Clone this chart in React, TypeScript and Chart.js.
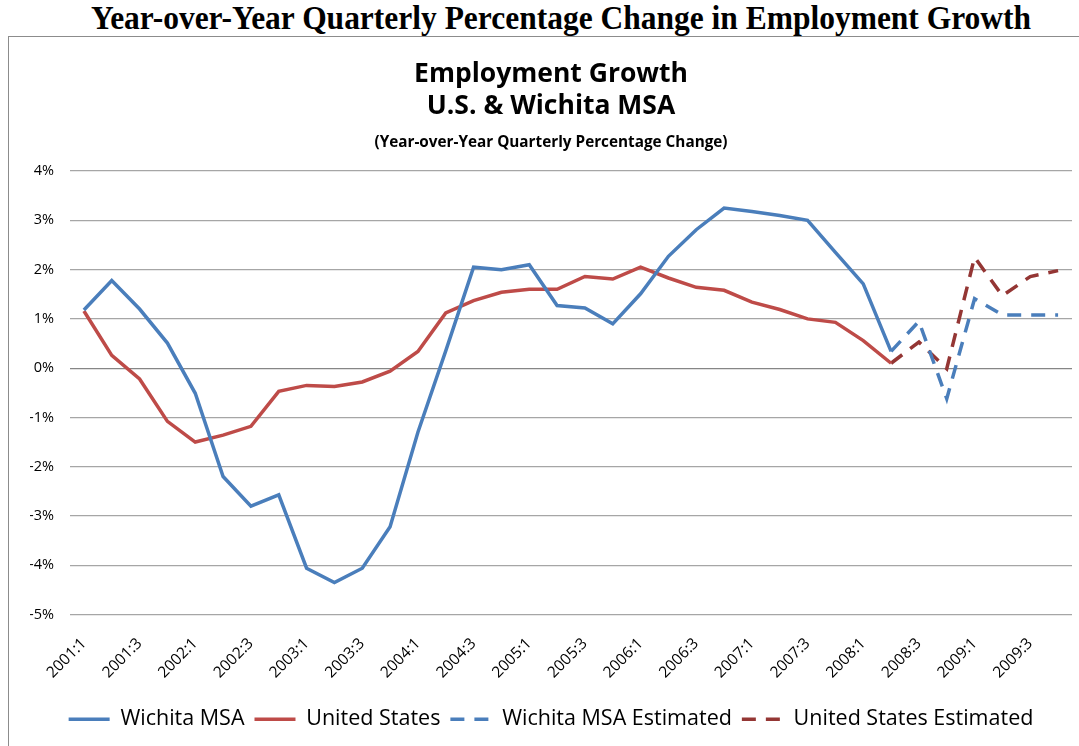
import React, { useEffect, useRef } from 'react';
import { Chart, registerables } from 'chart.js';

Chart.register(...registerables);

const quarters = [
  '2001:1', '2001:2', '2001:3', '2001:4',
  '2002:1', '2002:2', '2002:3', '2002:4',
  '2003:1', '2003:2', '2003:3', '2003:4',
  '2004:1', '2004:2', '2004:3', '2004:4',
  '2005:1', '2005:2', '2005:3', '2005:4',
  '2006:1', '2006:2', '2006:3', '2006:4',
  '2007:1', '2007:2', '2007:3', '2007:4',
  '2008:1', '2008:2', '2008:3', '2008:4',
  '2009:1', '2009:2', '2009:3', '2009:4',
];

// Actual values 2001:1 - 2008:2
const wichitaActual = [
  1.18, 1.78, 1.2, 0.51, -0.51, -2.2, -2.8, -2.57,
  -4.06, -4.35, -4.06, -3.22, -1.3, 0.35, 2.05, 2.0,
  2.1, 1.27, 1.22, 0.9, 1.51, 2.27, 2.81, 3.25,
  3.18, 3.1, 3.0, 2.35, 1.71, 0.34,
];
const usActual = [
  1.16, 0.26, -0.22, -1.08, -1.5, -1.36, -1.18, -0.47,
  -0.35, -0.37, -0.28, -0.06, 0.34, 1.12, 1.37, 1.54,
  1.6, 1.6, 1.86, 1.81, 2.05, 1.83, 1.64, 1.58,
  1.34, 1.19, 1.0, 0.93, 0.56, 0.1,
];
// Estimated values 2008:2 - 2009:4
const estimateStart = '2008:2';
const wichitaEstimated = [0.34, 0.95, -0.62, 1.41, 1.08, 1.08, 1.08];
const usEstimated = [0.1, 0.53, -0.01, 2.25, 1.47, 1.86, 1.98];

const yTicks = [-5, -4, -3, -2, -1, 0, 1, 2, 3, 4];

const FONT = '"Open Sans", Lato, sans-serif';

function padActual(vals: number[]) {
  return quarters.map((_, i) => (i < vals.length ? vals[i] : null));
}
function padEstimate(vals: number[]) {
  const s = quarters.indexOf(estimateStart);
  return quarters.map((_, i) => (i >= s && i - s < vals.length ? vals[i - s] : null));
}

export default function App() {
  const canvasRef = useRef<HTMLCanvasElement | null>(null);

  useEffect(() => {
    const ctx = canvasRef.current;
    if (!ctx) return;
    const chart = new Chart(ctx, {
      type: 'line',
      data: {
        labels: quarters,
        datasets: [
          {
            label: 'Wichita MSA',
            data: padActual(wichitaActual),
            borderColor: '#4A7EBB',
            backgroundColor: '#4A7EBB',
            borderWidth: 3.5,
            pointRadius: 0,
            tension: 0,
          },
          {
            label: 'United States',
            data: padActual(usActual),
            borderColor: '#BE4B48',
            backgroundColor: '#BE4B48',
            borderWidth: 3.5,
            pointRadius: 0,
            tension: 0,
          },
          {
            label: 'Wichita MSA Estimated',
            data: padEstimate(wichitaEstimated),
            borderColor: '#4A7EBB',
            backgroundColor: '#4A7EBB',
            borderWidth: 3.5,
            borderDash: [14, 10],
            pointRadius: 0,
            tension: 0,
          },
          {
            label: 'United States Estimated',
            data: padEstimate(usEstimated),
            borderColor: '#943634',
            backgroundColor: '#943634',
            borderWidth: 3.5,
            borderDash: [14, 10],
            pointRadius: 0,
            tension: 0,
          },
        ],
      },
      options: {
        responsive: false,
        animation: false,
        maintainAspectRatio: false,
        layout: { padding: { left: 22, right: 15, top: 0, bottom: 6 } },
        plugins: {
          tooltip: { enabled: false },
          title: {
            display: true,
            text: ['Employment Growth', 'U.S. & Wichita MSA'],
            color: '#000',
            font: { family: FONT, size: 26.5, weight: 'bold', lineHeight: 1.21 },
            padding: { top: 22, bottom: 11 },
          },
          subtitle: {
            display: true,
            text: '(Year-over-Year Quarterly Percentage Change)',
            color: '#000',
            font: { family: FONT, size: 15.3, weight: 'bold', lineHeight: 1.2 },
            padding: { top: 0, bottom: 19.6 },
          },
          legend: {
            display: true,
            position: 'bottom',
            labels: {
              usePointStyle: true,
              pointStyle: 'line',
              pointStyleWidth: 41,
              color: '#000',
              font: { family: FONT, size: 21.5 },
              padding: 10,
              generateLabels: (c: any) =>
                c.data.datasets.map((ds: any, i: number) => ({
                  text: ds.label,
                  datasetIndex: i,
                  fillStyle: ds.borderColor,
                  strokeStyle: ds.borderColor,
                  lineWidth: 3.5,
                  lineDash: ds.borderDash || [],
                  lineCap: 'butt',
                  pointStyle: 'line',
                  fontColor: '#000',
                  hidden: false,
                })),
            },
          },
        },
        scales: {
          x: {
            type: 'category',
            offset: true,
            grid: { display: false, drawTicks: false },
            border: { display: false },
            afterFit: (s: any) => {
              s.height = 84;
              s.paddingLeft = 0;
              s.paddingRight = 0;
            },
            ticks: {
              autoSkip: false,
              maxRotation: 45,
              minRotation: 45,
              padding: 20,
              color: '#000',
              font: { family: FONT, size: 15.5 },
              callback: (_v: any, i: number) => (i % 2 === 0 ? quarters[i] : ''),
            },
          },
          y: {
            min: yTicks[0],
            max: yTicks[yTicks.length - 1],
            afterBuildTicks: (s: any) => { s.ticks = yTicks.map((v) => ({ value: v })); },
            afterFit: (s: any) => { s.width = 40; },
            grid: {
              drawTicks: false,
              lineWidth: 1.2,
              color: (c: any) => (c.tick && c.tick.value === 0 ? '#868686' : '#A6A6A6'),
            },
            border: { display: false },
            ticks: {
              padding: 16,
              color: '#000',
              font: { family: FONT, size: 14.5 },
              callback: (v: any) => `${v}%`,
            },
          },
        },
      },
    });
    return () => chart.destroy();
  }, []);

  return (
    <div style={{ position: 'fixed', left: 0, top: 0, width: 1079, height: 746, background: '#fff', overflow: 'hidden' }}>
      <div
        style={{
          position: 'absolute',
          left: 0,
          top: 0,
          width: 1122,
          textAlign: 'center',
          fontFamily: '"Liberation Serif", "Times New Roman", serif',
          fontWeight: 'bold',
          fontSize: 33,
          lineHeight: '36px',
          whiteSpace: 'nowrap',
          color: '#000',
          transform: 'scaleX(0.954)',
          transformOrigin: '561px 0',
        }}
      >
        Year-over-Year Quarterly Percentage Change in Employment Growth
      </div>
      <div
        style={{
          position: 'absolute',
          left: 8,
          top: 36,
          width: 1090,
          height: 730,
          borderTop: '1.5px solid #8C8C8C',
          borderLeft: '1.5px solid #8C8C8C',
        }}
      />
      <canvas
        ref={canvasRef}
        width={1079}
        height={710}
        style={{ position: 'absolute', left: 8, top: 36, width: 1079, height: 710 }}
      />
    </div>
  );
}
